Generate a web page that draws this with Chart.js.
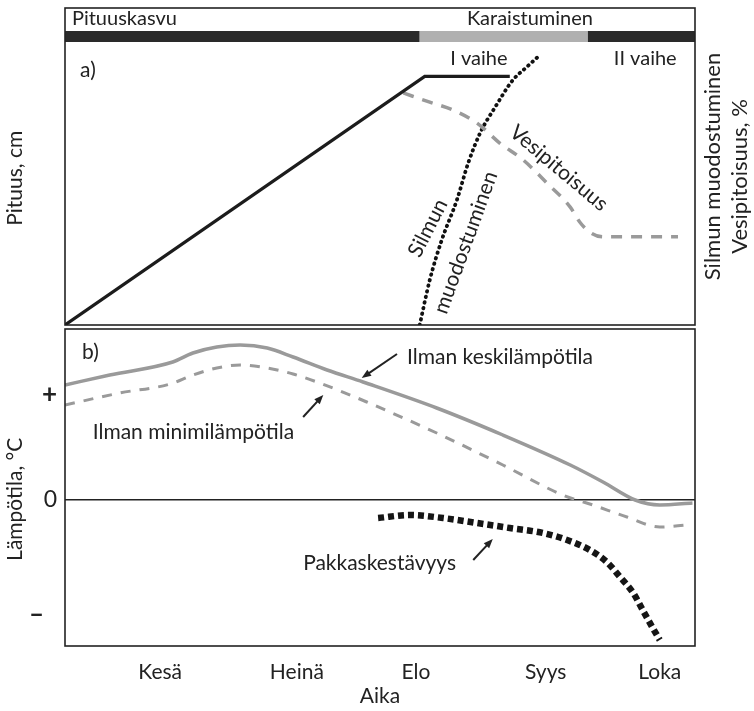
<!DOCTYPE html>
<html>
<head>
<meta charset="utf-8">
<script src="https://cdn.jsdelivr.net/npm/chart.js@4.4.1/dist/chart.umd.min.js"></script>
<style>
  html, body { margin:0; padding:0; background:#fff; }
  #wrap { position:relative; width:754px; height:711px; }
  canvas { position:absolute; left:0; }
  #ca { top:0; }
  #cb { top:325px; }
</style>
</head>
<body>
<div id="wrap">
  <canvas id="ca" width="754" height="327"></canvas>
  <canvas id="cb" width="754" height="386"></canvas>
</div>
<script>
// ---------------------------
// DATA  (x = position across the season, 0 = left edge, 100 = right edge)
// ---------------------------
const monthNames = ["Kesä", "Heinä", "Elo", "Syys", "Loka"];
const monthPos   = [15.1, 36.8, 55.7, 76.3, 94.4];

// phase strip above panel a
const phaseStart = [0, 56.3, 83.0];
const phaseEnd   = [56.3, 83.0, 100];

// a) relative units 0..100
const heightX = [0, 57.1, 70.6];
const heightY = [0, 78.4, 78.4];

const waterX = [53.7, 57.9, 61.6, 65.4, 69.0, 72.7, 76.5, 80.2, 81.7, 83.3, 85.4, 87.0, 94.0, 97.3];
const waterY = [73.2, 70.3, 67.8, 63.7, 57.4, 52.1, 44.8, 37.2, 32.5, 29.3, 27.8, 27.8, 27.8, 27.8];

const budX = [56.3, 57.9, 59.8, 62.2, 64.0, 65.9, 68.3, 71.1, 73.3, 75.4];
const budY = [0, 14.2, 26.8, 39.4, 51.1, 60.6, 68.8, 77.3, 81.4, 85.2];

// b) temperature, relative units (0 = freezing point)
const tempTicks  = [10.5, 0, -11.5];
const tempLabels = ["+", "0", "–\u2002"];

const meanX = [0, 7.1, 17.1, 20.3, 24.1, 27.8, 32.1, 36.2, 41.6, 47.3, 59.0, 69.5, 80.2, 85.4, 90.5, 94.4, 99.6];
const meanY = [11.5, 12.5, 13.8, 14.7, 15.3, 15.5, 15.2, 14.3, 13.0, 11.8, 9.2, 6.5, 3.5, 1.8, 0, -0.5, -0.3];

const minX = [0, 8.7, 16.7, 20.3, 24.1, 27.8, 32.1, 36.2, 40.0, 43.7, 47.9, 59.0, 69.5, 79.0, 83.8, 89.2, 94.4, 98.7];
const minY = [9.5, 10.7, 11.6, 12.5, 13.2, 13.5, 13.2, 12.6, 11.8, 10.9, 9.8, 6.7, 3.5, 0.5, -0.5, -1.7, -2.7, -2.5];

const hardX = [49.7, 54.8, 60.0, 65.4, 70.6, 75.9, 79.7, 83.3, 86.0, 88.1, 90.2, 91.7, 93.3, 94.4];
const hardY = [-1.8, -1.5, -1.8, -2.3, -2.8, -3.3, -4.0, -5.0, -6.2, -7.7, -9.3, -11.0, -12.8, -14.0];

// ---------------------------
// STYLE
// ---------------------------
const FONT = 'Lato, "Open Sans", sans-serif';
const INK = '#222';
const GREY = '#9a9a9a';
const phaseColors = ['#2a2a2a', '#b0b0b0', '#2a2a2a'];
const PAD = '\u2002\u2002\u2009';   // nudges the rotated axis titles down a little

// ---------------------------
// HELPERS
// ---------------------------
const xy = (xs, ys) => xs.map((x, i) => ({ x, y: ys[i] }));

function text(ctx, s, x, y, o = {}) {
  ctx.save();
  ctx.font = `${o.size || 21}px ${FONT}`;
  ctx.fillStyle = INK;
  ctx.textAlign = o.align || 'left';
  ctx.textBaseline = 'middle';
  ctx.translate(x, y);
  if (o.rot) ctx.rotate(o.rot * Math.PI / 180);
  ctx.fillText(s, 0, 0);
  ctx.restore();
}

function arrow(ctx, x1, y1, x2, y2) {
  const a = Math.atan2(y2 - y1, x2 - x1), h = 10;
  ctx.save();
  ctx.strokeStyle = INK; ctx.fillStyle = INK; ctx.lineWidth = 2;
  ctx.beginPath();
  ctx.moveTo(x1, y1);
  ctx.lineTo(x2 - Math.cos(a) * h * 0.7, y2 - Math.sin(a) * h * 0.7);
  ctx.stroke();
  ctx.beginPath();
  ctx.moveTo(x2, y2);
  ctx.lineTo(x2 - h * Math.cos(a - 0.38), y2 - h * Math.sin(a - 0.38));
  ctx.lineTo(x2 - h * Math.cos(a + 0.38), y2 - h * Math.sin(a + 0.38));
  ctx.closePath();
  ctx.fill();
  ctx.restore();
}

function frame(chart) {
  const { ctx, chartArea: a } = chart;
  ctx.save();
  ctx.strokeStyle = INK; ctx.lineWidth = 1.6;
  ctx.strokeRect(a.left, a.top, a.right - a.left, a.bottom - a.top);
  ctx.restore();
}

function noEdgePadding(ax) {
  ax.paddingTop = 0; ax.paddingBottom = 0;
  ax.paddingLeft = 0; ax.paddingRight = 0;
}

const line = (data, color, width, extra = {}) => Object.assign({
  data, borderColor: color, borderWidth: width, pointRadius: 0, fill: false,
  cubicInterpolationMode: 'monotone'
}, extra);

// ---------------------------
// PANEL a)
// ---------------------------
const panelA = {
  id: 'panelA',
  afterDatasetsDraw(chart) {
    const { ctx, chartArea: a, scales: { x, y } } = chart;
    const X = v => x.getPixelForValue(v), Y = v => y.getPixelForValue(v);

    // phase strip
    phaseStart.forEach((s, i) => {
      ctx.fillStyle = phaseColors[i];
      ctx.fillRect(X(s), a.top + 23, X(phaseEnd[i]) - X(s), 11);
    });
    text(ctx, 'Pituuskasvu', X(1.1), a.top + 11, { size: 20 });
    text(ctx, 'Karaistuminen', X(73.8), a.top + 11, { size: 20, align: 'center' });
    text(ctx, 'I vaihe', X(65.7), Y(84.2), { size: 20, align: 'center' });
    text(ctx, 'II vaihe', X(92.1), Y(84.2), { size: 20, align: 'center' });
    text(ctx, 'a)', X(2.4), Y(80.4));

    text(ctx, 'Vesipitoisuus', X(78.4), Y(49.5), { align: 'center', rot: 40 });
    text(ctx, 'Silmun', X(57.6), Y(30.6), { align: 'center', rot: -63 });
    text(ctx, 'muodostuminen', X(63.6), Y(26.0), { align: 'center', rot: -70 });

    // right-hand axis titles
    text(ctx, 'Silmun muodostuminen', 713, (a.top + a.bottom) / 2, { size: 22, align: 'center', rot: -90 });
    text(ctx, 'Vesipitoisuus, %', 740, (a.top + a.bottom) / 2 + 10, { size: 22, align: 'center', rot: -90 });

    frame(chart);
  }
};

new Chart(document.getElementById('ca'), {
  type: 'line',
  data: {
    datasets: [
      line(xy(heightX, heightY), '#1c1c1c', 3.2, { cubicInterpolationMode: 'default', tension: 0 }),
      line(xy(waterX, waterY), GREY, 3.5, { borderDash: [11, 9] }),
      line(xy(budX, budY), '#111', 3.8, { borderDash: [0.5, 5.2], borderCapStyle: 'round' })
    ]
  },
  options: {
    responsive: false,
    animation: false,
    layout: { padding: { top: 8, bottom: 2, right: 59, left: 0 } },
    plugins: { legend: { display: false }, tooltip: { enabled: false } },
    scales: {
      x: { type: 'linear', min: 0, max: 100, display: false },
      y: {
        min: 0, max: 100,
        ticks: { display: false },
        grid: { display: false },
        border: { display: false },
        title: { display: true, text: 'Pituus, cm' + PAD, color: INK,
                 font: { family: FONT, size: 21 }, padding: { top: 3, bottom: 0 } },
        afterFit(ax) { ax.width = 65; noEdgePadding(ax); }
      }
    }
  },
  plugins: [panelA]
});

// ---------------------------
// PANEL b)
// ---------------------------
const panelB = {
  id: 'panelB',
  afterDatasetsDraw(chart) {
    const { ctx, scales: { x, y } } = chart;
    const X = v => x.getPixelForValue(v), Y = v => y.getPixelForValue(v);

    text(ctx, 'b)', X(2.7), Y(14.8));
    text(ctx, 'Ilman keskilämpötila', X(54.3), Y(14.3));
    arrow(ctx, X(52.7), Y(14.6), X(47.1), Y(12.2));
    text(ctx, 'Ilman minimilämpötila', X(4.4), Y(6.8));
    arrow(ctx, X(37.8), Y(8.3), X(41.0), Y(10.5));
    text(ctx, 'Pakkaskestävyys', X(37.8), Y(-6.3));
    arrow(ctx, X(64.8), Y(-6.0), X(67.9), Y(-3.9));

    frame(chart);
  }
};

new Chart(document.getElementById('cb'), {
  type: 'line',
  data: {
    datasets: [
      line(xy(meanX, meanY), GREY, 3.5),
      line(xy(minX, minY), GREY, 3, { borderDash: [10, 9] }),
      line(xy(hardX, hardY), '#151515', 6.5, { borderDash: [6, 4] })
    ]
  },
  options: {
    responsive: false,
    animation: false,
    layout: { padding: { top: 4, bottom: 0, right: 59, left: 0 } },
    plugins: { legend: { display: false }, tooltip: { enabled: false } },
    scales: {
      x: {
        type: 'linear', min: 0, max: 100,
        afterBuildTicks(ax) { ax.ticks = monthPos.map(v => ({ value: v })); },
        ticks: { autoSkip: false, maxRotation: 0, padding: 14, color: INK,
                 font: { family: FONT, size: 21 },
                 callback: (v, i) => monthNames[i] },
        grid: { display: false, drawTicks: false },
        border: { display: false },
        title: { display: true, text: 'Aika', color: INK,
                 font: { family: FONT, size: 21 }, padding: { top: 0, bottom: 2 } },
        afterFit(ax) { ax.height = 65; noEdgePadding(ax); }
      },
      y: {
        min: -14.6, max: 17.1,
        afterBuildTicks(ax) { ax.ticks = tempTicks.map(v => ({ value: v })); },
        ticks: { padding: 8, color: INK,
                 font: c => ({ family: FONT, size: c.index === 1 ? 23 : 26,
                               weight: c.index === 1 ? 'normal' : 'bold' }),
                 callback: (v, i) => tempLabels[i] },
        grid: { drawTicks: false, lineWidth: 1.6,
                color: c => (c.tick && c.tick.value === 0 ? INK : 'rgba(0,0,0,0)') },
        border: { display: false },
        title: { display: true, text: 'Lämpötila, °C' + PAD, color: INK,
                 font: { family: FONT, size: 21 }, padding: { top: 3, bottom: 0 } },
        afterFit(ax) { ax.width = 65; noEdgePadding(ax); }
      }
    }
  },
  plugins: [panelB]
});
</script>
</body>
</html>
